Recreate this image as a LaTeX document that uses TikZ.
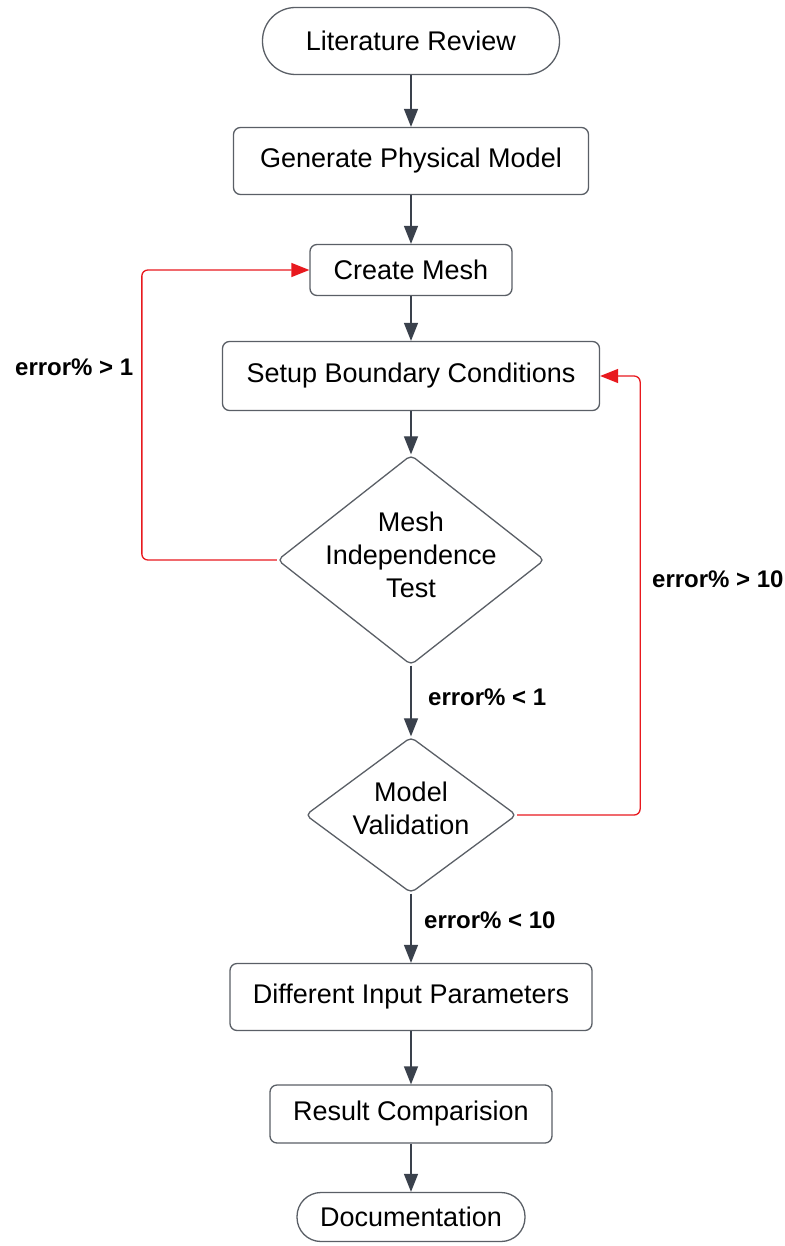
\documentclass[tikz,border=0pt]{standalone}
\usepackage{fontspec}
\setmainfont{Liberation Sans}
\usetikzlibrary{shapes.geometric,arrows.meta}
\definecolor{edge}{HTML}{5A5F66}
\definecolor{arrowc}{HTML}{3A414C}
\definecolor{redc}{HTML}{E8191E}
\tikzset{
  base/.style={draw=edge, line width=1.3pt, fill=white, align=center, font=\fontsize{27}{33}\selectfont, inner sep=0pt},
  procbox/.style={base, rectangle, rounded corners=7pt},
  term/.style={base, rectangle},
  decision/.style={base, diamond, rounded corners=5pt},
  dtext/.style={align=center, font=\fontsize{27}{33}\selectfont, inner sep=0pt},
  arr/.style={draw=arrowc, line width=1.3pt, -{Triangle[length=18pt,width=14pt]}},
  redarr/.style={draw=redc, line width=1.3pt, rounded corners=6pt, -{Triangle[length=18pt,width=14pt]}},
  lbl/.style={font=\fontsize{24}{28}\selectfont\bfseries, anchor=west, inner sep=0pt}
}
\begin{document}
\begin{tikzpicture}[x=1pt,y=-1pt]
\useasboundingbox (0,0) rectangle (784,1246);
\node[term, rounded corners=33pt, minimum width=297pt, minimum height=67pt] (lit) at (411,41) {Literature Review};
\node[procbox, minimum width=355pt, minimum height=67pt] (gen) at (411,161) {Generate Physical Model};
\node[procbox, minimum width=202pt, minimum height=51pt] (mesh) at (411,270) {Create Mesh};
\node[procbox, minimum width=377pt, minimum height=69pt] (setup) at (411,376) {Setup Boundary Conditions};
\node[decision, minimum width=267pt, minimum height=210pt] (mit) at (411,560) {};
\node[dtext] (mitt) at (411,555) {Mesh\\Independence\\Test};
\node[decision, minimum width=211pt, minimum height=156pt] (mv) at (411,815) {};
\node[dtext] (mvt) at (411,808) {Model\\Validation};
\node[procbox, minimum width=362pt, minimum height=67pt] (dip) at (411,997) {Different Input Parameters};
\node[procbox, minimum width=282pt, minimum height=58pt] (res) at (411,1114) {Result Comparision};
\node[term, rounded corners=24pt, minimum width=228pt, minimum height=49pt] (doc) at (411,1217) {Documentation};

\draw[arr] (lit) -- (gen);
\draw[arr] (gen) -- (mesh);
\draw[arr] (mesh) -- (setup);
\draw[arr] (setup) -- (mit);
\draw[arr] (mit) -- (mv);
\draw[arr] (mv) -- (dip);
\draw[arr] (dip) -- (res);
\draw[arr] (res) -- (doc);

\draw[redarr] (mit.west) -- ([xshift=-135pt]mit.west) |- (mesh.west);
\draw[redarr] (mv.east) -- ([xshift=123pt]mv.east) |- (setup.east);

\node[lbl] (l1) at (428,697) {error\% < 1};
\node[lbl] (l2) at (424,920) {error\% < 10};
\node[lbl] (l3) at (15,367) {error\% > 1};
\node[lbl] (l4) at (652,579) {error\% > 10};
\end{tikzpicture}
\end{document}
